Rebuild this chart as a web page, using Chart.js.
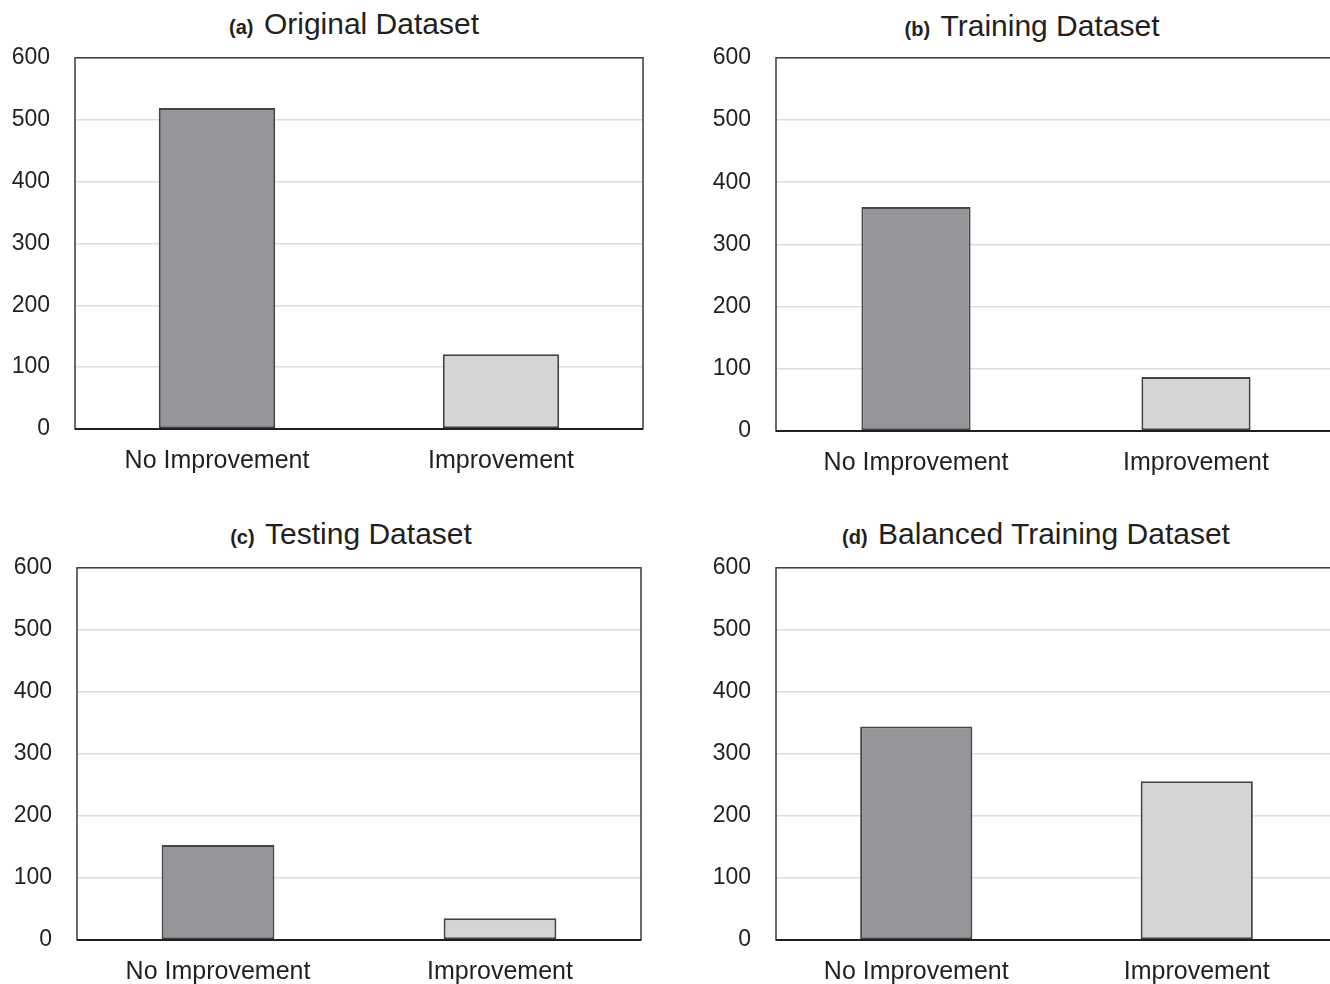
<!DOCTYPE html>
<html>
<head>
<meta charset="utf-8">
<script src="https://cdn.jsdelivr.net/npm/chart.js@4"></script>
<style>
    html, body { margin: 0; padding: 0; background: #fff; overflow: hidden; width: 1330px; height: 984px; }
    .panel { position: absolute; }
    .title { position: absolute; width: 600px; text-align: center; line-height: 32px; color: #231f20;
             font-family: "Liberation Sans", Arial, sans-serif; white-space: nowrap; }
    .title b { font-size: 20px; margin-right: 6px; }
    .title span { font-size: 30px; }
</style>
</head>
<body>
<div class="title" style="left:54px; top:8px;"><b>(a)</b> <span>Original Dataset</span></div>
<div class="title" style="left:732px; top:10px;"><b>(b)</b> <span>Training Dataset</span></div>
<div class="title" style="left:51px; top:518px;"><b>(c)</b> <span>Testing Dataset</span></div>
<div class="title" style="left:736px; top:518px;"><b>(d)</b> <span>Balanced Training Dataset</span></div>

<div class="panel" style="left:0px; top:19px; width:658px; height:470px;"><canvas id="chartA"></canvas></div>
<div class="panel" style="left:701px; top:19px; width:635px; height:472px;"><canvas id="chartB"></canvas></div>
<div class="panel" style="left:2px; top:529px; width:654px; height:471px;"><canvas id="chartC"></canvas></div>
<div class="panel" style="left:701px; top:529px; width:636px; height:471px;"><canvas id="chartD"></canvas></div>

<script>
const categories = ['No Improvement', 'Improvement'];
const originalCounts = [519, 121];
const trainingCounts = [360, 87];
const testingCounts = [153, 35];
const balancedCounts = [344, 256];
const yMin = 0;
const yMax = 600;
const yStep = 100;

const barColors = ['#939598', '#d4d5d7'];
const fontFamily = '"Liberation Sans", Arial, sans-serif';

// box around the plot area
const frameBox = {
    id: 'frameBox',
    afterDraw(chart) {
        const { ctx, chartArea } = chart;
        ctx.save();
        ctx.strokeStyle = '#3a3a3a';
        ctx.lineWidth = 1.5;
        ctx.strokeRect(chartArea.left, chartArea.top, chartArea.right - chartArea.left, chartArea.bottom - chartArea.top);
        ctx.beginPath();
        ctx.lineWidth = 2;
        ctx.strokeStyle = '#231f20';
        ctx.moveTo(chartArea.left, chartArea.bottom);
        ctx.lineTo(chartArea.right, chartArea.bottom);
        ctx.stroke();
        ctx.restore();
    }
};

function makeChart(canvasId, values, padRight, barPct) {
    const ctx = document.getElementById(canvasId).getContext('2d');
    return new Chart(ctx, {
        type: 'bar',
        data: {
            labels: categories,
            datasets: [{
                data: values,
                backgroundColor: barColors,
                borderColor: '#454545',
                borderWidth: 2,
                borderSkipped: false,
                barPercentage: barPct,
                categoryPercentage: 1.0
            }]
        },
        options: {
            responsive: true,
            maintainAspectRatio: false,
            animation: false,
            layout: { padding: { top: 0, right: padRight, left: 0, bottom: 0 } },
            plugins: {
                legend: { display: false },
                tooltip: { enabled: false }
            },
            scales: {
                x: {
                    afterFit: scale => { scale.height = 60; },
                    grid: { display: false, drawTicks: false },
                    border: { display: false },
                    ticks: {
                        padding: 17,
                        color: '#231f20',
                        font: { family: fontFamily, size: 25 }
                    }
                },
                y: {
                    min: yMin,
                    max: yMax,
                    afterFit: scale => { scale.width = 75; },
                    grid: {
                        drawTicks: false,
                        color: c => (c.tick.value === yMin || c.tick.value === yMax) ? 'rgba(0,0,0,0)' : '#dedede',
                        lineWidth: 1.5
                    },
                    border: { display: false },
                    ticks: {
                        stepSize: yStep,
                        padding: 25,
                        color: '#231f20',
                        font: { family: fontFamily, size: 23 }
                    }
                }
            }
        },
        plugins: [frameBox]
    });
}

makeChart('chartA', originalCounts, 15, 0.41);
makeChart('chartB', trainingCounts, 0, 0.39);
makeChart('chartC', testingCounts, 15, 0.40);
makeChart('chartD', balancedCounts, 0, 0.40);
</script>
</body>
</html>
